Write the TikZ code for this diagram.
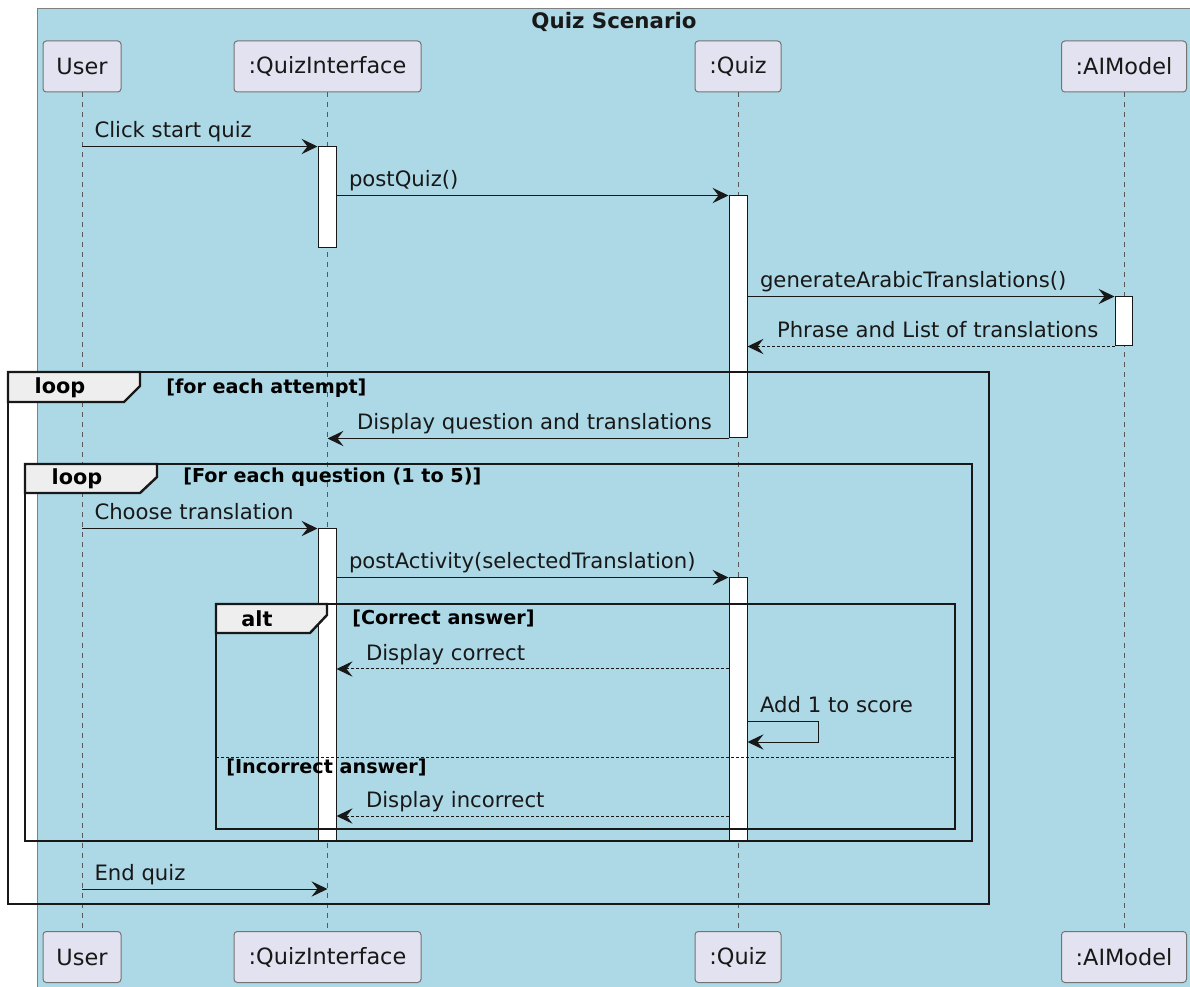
\documentclass[tikz,border=0pt]{standalone}
\usepackage{fontspec}
\setmainfont{DejaVu Sans}
\usetikzlibrary{arrows.meta,fit}

\definecolor{boxblue}{HTML}{ADD8E6}
\definecolor{partfill}{HTML}{E2E2F0}
\definecolor{tabfill}{HTML}{EEEEEE}
\definecolor{ink}{HTML}{181818}

\tikzset{
	part/.style={draw=black!55, fill=partfill, rounded corners=2.5pt, line width=0.75pt,
		minimum height=38.25pt, inner sep=0pt, text=ink, font=\fontsize{16.8}{20}\selectfont},
	life/.style={draw=black!65, line width=0.75pt, dash pattern=on 3.75pt off 3.75pt},
	act/.style={draw=ink, fill=white, line width=0.75pt, inner sep=0pt},
	msg/.style={draw=ink, line width=0.75pt, -{Stealth[length=12pt,width=11.5pt,inset=4.5pt]}},
	ret/.style={msg, dash pattern=on 2.25pt off 1.5pt},
	lbl/.style={anchor=base west, yshift=6.4pt, inner sep=0pt, text=ink, font=\fontsize{15.9}{18}\selectfont},
	lblR/.style={lbl, pos=0, xshift=9pt},
	lblL/.style={lbl, pos=1, xshift=21.75pt},
	frame/.style={draw=ink, line width=1.8pt},
	tab/.style={frame, fill=tabfill},
	tabtext/.style={anchor=base, inner sep=0pt, font=\fontsize{15.6}{18}\selectfont\bfseries},
	guard/.style={anchor=base west, inner sep=0pt, font=\fontsize{14.4}{17}\selectfont\bfseries}
}

\begin{document}
\begin{tikzpicture}[x=0.75pt,y=-0.75pt]
	\path[use as bounding box, clip] (0,0) rectangle (1190,987);
	\fill[boxblue] (37,9) rectangle (1200,1000);
	\draw[black!50, line width=0.75pt] (37,1000) -- (37,9) -- (1200,9);
	\node[anchor=base, inner sep=0pt, text=ink, font=\fontsize{16}{19}\selectfont\bfseries] (title) at (614,29) {Quiz Scenario};

	\foreach \n/\x/\w/\t in {User/82/58.5/User, QI/327.5/140.25/{:QuizInterface}, Quiz/738/64.5/{:Quiz}, AI/1124/93.75/{:AIModel}}{
		\node[part, minimum width=\w pt] (t\n) at (\x,66.5) {\t};
		\node[part, minimum width=\w pt] (b\n) at (\x,957) {\t};
		\draw[life] (t\n.south) -- (b\n.north);
	}

	\node[act, fit={(318,147) (336,248)}] (qiA) {};
	\node[act, fit={(729,196) (747,438)}] (qzA) {};
	\node[act, fit={(1115,297) (1132,346)}] (aiA) {};
	\node[act, fit={(318,529) (336,841)}] (qiB) {};
	\node[act, fit={(729,578) (747,841)}] (qzB) {};

	\coordinate (rCorrect) at (0,669);
	\coordinate (rScore) at (0,721);
	\coordinate (rIncorrect) at (0,816);
	\coordinate (rEnd) at (0,889);

	\draw[msg] (tUser |- qiA.north) -- (qiA.north west) node[lblR] (mStart) {Click start quiz};
	\draw[msg] (qiA.east |- qzA.north) -- (qzA.north west) node[lblR] (mPost) {postQuiz()};
	\draw[msg] (qzA.east |- aiA.north) -- (aiA.north west) node[lblR] (mGen) {generateArabicTranslations()};
	\draw[ret] (aiA.south west) -- (qzA.east |- aiA.south) node[lblL] (mPhrase) {Phrase and List of translations};
	\draw[msg] (qzA.south west) -- (tQI |- qzA.south) node[lblL] (mShow) {Display question and translations};
	\draw[msg] (tUser |- qiB.north) -- (qiB.north west) node[lblR] (mChoose) {Choose translation};
	\draw[msg] (qiB.east |- qzB.north) -- (qzB.north west) node[lblR] (mActivity) {postActivity(selectedTranslation)};
	\draw[ret] (qzB.west |- rCorrect) -- (qiB.east |- rCorrect) node[lblL] (mCorrect) {Display correct};
	\draw[msg] (qzB.east |- rScore) -- ++(71,0) node[lblR] (mScore) {Add 1 to score} -- ++(0,21) -- ++(-71,0);
	\draw[ret] (qzB.west |- rIncorrect) -- (qiB.east |- rIncorrect) node[lblL] (mIncorrect) {Display incorrect};
	\draw[msg] (tUser |- rEnd) -- (tQI |- rEnd) node[lblR] (mEnd) {End quiz};

	\draw[frame] (8,372) rectangle (989,904);
	\draw[tab] (8,372) -- (140,372) -- (140,386) -- (124,402) -- (8,402) -- cycle;
	\node[tabtext] (loopA) at (60,394) {loop};
	\node[guard] (guardA) at (166,394) {[for each attempt]};

	\draw[frame] (25,464) rectangle (972,841);
	\draw[tab] (25,464) -- (157,464) -- (157,477) -- (140,493) -- (25,493) -- cycle;
	\node[tabtext] (loopB) at (77,485) {loop};
	\node[guard] (guardB) at (183,483) {[For each question (1 to 5)]};

	\draw[frame] (216,604) rectangle (955,829);
	\draw[tab] (216,604) -- (327,604) -- (327,615) -- (310,633) -- (216,633) -- cycle;
	\node[tabtext] (altA) at (257,627) {alt};
	\node[guard] (guardC) at (352,625) {[Correct answer]};
	\draw[ink, line width=0.75pt, dash pattern=on 2.25pt off 1.5pt] (216,757) -- (955,757);
	\node[guard] (guardD) at (226,773) {[Incorrect answer]};
\end{tikzpicture}
\end{document}
